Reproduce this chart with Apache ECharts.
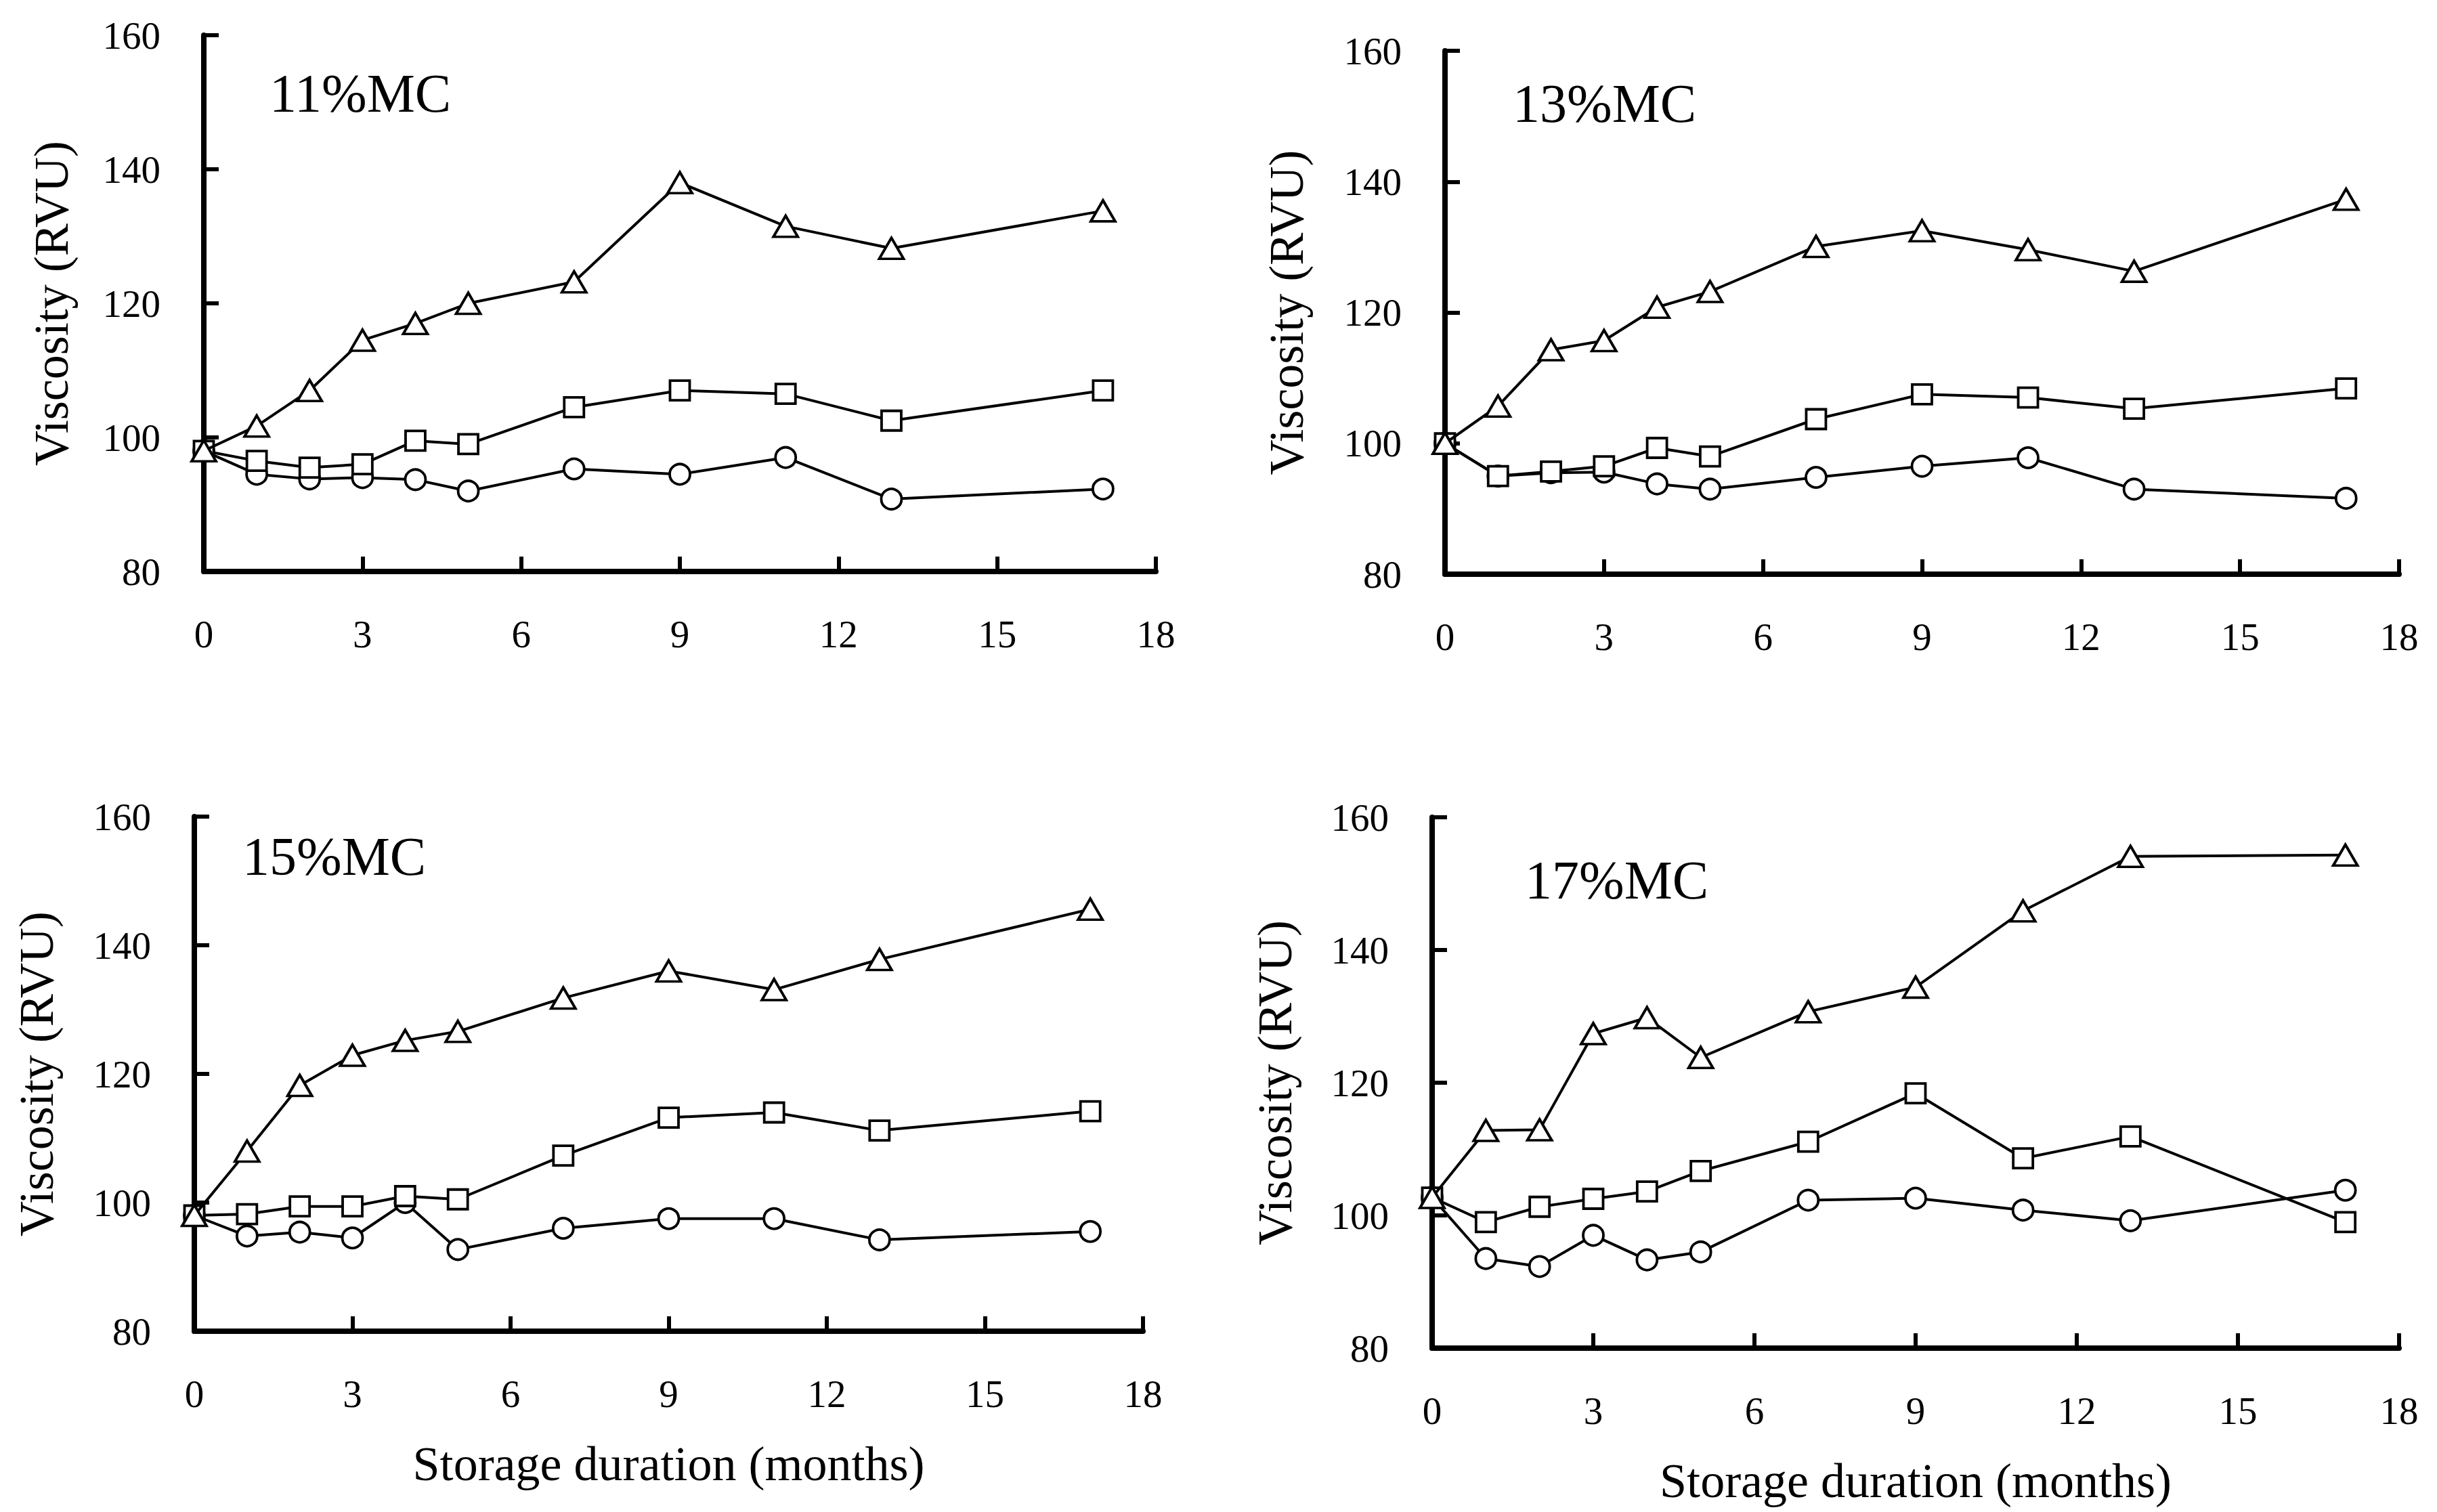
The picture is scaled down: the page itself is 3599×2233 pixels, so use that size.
<!DOCTYPE html>
<html>
<head>
<meta charset="utf-8">
<script src="https://cdn.jsdelivr.net/npm/echarts@6/dist/echarts.min.js"></script>
<style>
  html, body { margin: 0; padding: 0; background: #fff; }
  #chart { width: 3599px; height: 2233px; }
</style>
</head>
<body>
<div id="chart"></div>
<script>
// Storage months at which viscosity was measured
const months = [0, 1, 2, 3, 4, 5, 7, 9, 11, 13, 17];

// Axis ticks
const xTicks = [0, 3, 6, 9, 12, 15, 18];
const yTicks = [80, 100, 120, 140, 160];

// Panel headings (moisture content) and axis titles
const panelTitles = ['11%MC', '13%MC', '15%MC', '17%MC'];
const yTitle = 'Viscosity (RVU)';
const xTitle = 'Storage duration (months)';

// Viscosity (RVU), one array per marker series and moisture level
const circle11   = [98, 94.5, 93.8, 94, 93.7, 92, 95.3, 94.5, 97, 90.8, 92.3];
const square11   = [98, 96.5, 95.5, 96, 99.5, 99, 104.5, 107, 106.5, 102.5, 107];
const triangle11 = [98, 101.7, 107, 114.5, 117, 120, 123.2, 138, 131.5, 128.2, 133.8];

const circle13   = [100, 95, 95.5, 95.6, 93.8, 93, 94.8, 96.5, 97.8, 93, 91.6];
const square13   = [100, 95, 95.7, 96.5, 99.3, 98, 103.7, 107.5, 107, 105.3, 108.4];
const triangle13 = [100, 105.7, 114.3, 115.7, 120.8, 123.2, 130.1, 132.5, 129.6, 126.3, 137.3];

const circle15   = [98, 94.8, 95.4, 94.5, 100, 92.7, 96, 97.5, 97.5, 94.2, 95.5];
const square15   = [98, 98.2, 99.4, 99.4, 101, 100.5, 107.3, 113.2, 114, 111.2, 114.2];
const triangle15 = [98, 108, 118.2, 122.9, 125.2, 126.6, 131.8, 136, 133.1, 137.8, 145.6];

const circle17   = [102.7, 93.5, 92.3, 97, 93.3, 94.5, 102.3, 102.6, 100.8, 99.2, 103.8];
const square17   = [102.7, 99, 101.3, 102.5, 103.6, 106.7, 111.1, 118.4, 108.6, 111.9, 99];
const triangle17 = [102.7, 112.8, 112.9, 127.4, 129.8, 123.8, 130.7, 134.4, 145.9, 154.1, 154.3];

const panelSeries = [
  [circle11, square11, triangle11],
  [circle13, square13, triangle13],
  [circle15, square15, triangle15],
  [circle17, square17, triangle17]
];

// Plot areas and text placement for the 2x2 layout
const layout = [
  { grid: { left: 301,  top: 52,   width: 1406, height: 792 }, title: { left: 398,  top: 98 },   nameGap: 191, xName: false },
  { grid: { left: 2134, top: 75,   width: 1409, height: 773 }, title: { left: 2234, top: 113 },  nameGap: 200, xName: false },
  { grid: { left: 287,  top: 1206, width: 1401, height: 760 }, title: { left: 358,  top: 1225 }, nameGap: 199, xName: true },
  { grid: { left: 2115, top: 1207, width: 1428, height: 784 }, title: { left: 2252, top: 1260 }, nameGap: 198, xName: true }
];

const FONT = "Liberation Serif";
const INK = '#000';
const NAME_SIZE = 72;

const markers = [
  { symbol: 'circle',   size: 30 },
  { symbol: 'rect',     size: 29 },
  { symbol: 'triangle', size: [36, 31] }
];

const grids = [], xAxes = [], yAxes = [], titles = [], series = [], graphics = [];

layout.forEach((p, i) => {
  grids.push(Object.assign({ containLabel: false }, p.grid));

  titles.push({
    text: panelTitles[i],
    left: p.title.left,
    top: p.title.top,
    padding: 0,
    textStyle: { fontFamily: FONT, fontSize: 80, fontWeight: 'normal', color: INK }
  });

  // Vertical axis title, reading upward along the left of each plot
  graphics.push({
    type: 'text',
    x: p.grid.left - p.nameGap - NAME_SIZE / 2 + 2,
    y: p.grid.top + p.grid.height / 2,
    rotation: Math.PI / 2,
    silent: true,
    style: {
      text: yTitle,
      fontFamily: FONT,
      fontSize: NAME_SIZE,
      fill: INK,
      align: 'center',
      verticalAlign: 'middle'
    }
  });

  const axisCommon = {
    axisLine: { show: true, onZero: false, lineStyle: { color: INK, width: 8 } },
    axisTick: { show: true, inside: true, length: 22, lineStyle: { color: INK, width: 6 } },
    splitLine: { show: false },
    axisLabel: { fontFamily: FONT, fontSize: 57, color: INK, margin: 64, showMinLabel: true, showMaxLabel: true }
  };

  xAxes.push(Object.assign({}, axisCommon, {
    gridIndex: i,
    type: 'value',
    min: xTicks[0],
    max: xTicks[xTicks.length - 1],
    interval: xTicks[1] - xTicks[0],
    name: p.xName ? xTitle : '',
    nameLocation: 'middle',
    nameGap: 160,
    nameTextStyle: { fontFamily: FONT, fontSize: NAME_SIZE, color: INK }
  }));

  yAxes.push(Object.assign({}, axisCommon, {
    gridIndex: i,
    type: 'value',
    min: yTicks[0],
    max: yTicks[yTicks.length - 1],
    interval: yTicks[1] - yTicks[0]
  }));

  panelSeries[i].forEach((vals, k) => {
    series.push({
      type: 'line',
      xAxisIndex: i,
      yAxisIndex: i,
      data: months.map((m, j) => [m, vals[j]]),
      symbol: markers[k].symbol,
      symbolSize: markers[k].size,
      showAllSymbol: true,
      lineStyle: { color: INK, width: 4 },
      itemStyle: { color: '#fff', borderColor: INK, borderWidth: 3.8 },
      emphasis: { disabled: true },
      z: 2 + k
    });
  });
});

const chart = echarts.init(document.getElementById('chart'), null, { renderer: 'svg' });
chart.setOption({
  backgroundColor: '#fff',
  animation: false,
  title: titles,
  grid: grids,
  xAxis: xAxes,
  yAxis: yAxes,
  series: series,
  graphic: graphics
});
</script>
</body>
</html>
